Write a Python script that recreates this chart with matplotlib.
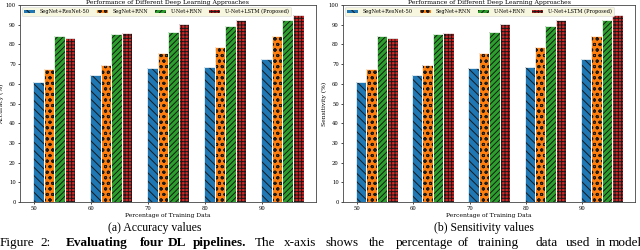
import numpy as np
import matplotlib
matplotlib.use("Agg")
import matplotlib.pyplot as plt

# ---------------------------------------------------------------------
# data
train_pct = [50, 60, 70, 80, 90]
methods = ["SegNet+ResNet-50", "SegNet+RNN", "U-Net+RNN", "U-Net+LSTM (Proposed)"]
accuracy = [
    [61.0, 64.5, 68.0, 68.6, 72.6],
    [67.5, 69.5, 75.8, 78.8, 84.5],
    [84.3, 85.2, 86.3, 89.3, 92.2],
    [83.3, 85.9, 90.5, 92.2, 94.8],
]
sensitivity = [
    [61.0, 64.5, 68.0, 68.6, 72.6],
    [67.5, 69.5, 75.8, 78.8, 84.5],
    [84.3, 85.2, 86.3, 89.3, 92.2],
    [83.3, 85.9, 90.5, 92.2, 94.8],
]
yticks = list(range(0, 101, 10))

COLORS = ["#1f77b4", "#ff7f0e", "#2ca02c", "#d62728"]
HATCHES = ["\\\\\\\\", "ooo", "//////", "+++++"]

plt.rcParams.update({
    "font.family": "DejaVu Serif",
    "hatch.linewidth": 0.7,
})

fig = plt.figure(figsize=(6.4, 2.5), dpi=100)
W, H = 640, 250


def px_axes(x0, x1, y0, y1):
    return fig.add_axes([x0 / W, 1 - y1 / H, (x1 - x0) / W, (y1 - y0) / H])


def panel(ax, values, ylabel):
    x = np.arange(len(train_pct))
    bw = 0.186
    for i, (name, vals) in enumerate(zip(methods, values)):
        pos = x + 0.07 + i * bw
        ax.bar(pos, vals, width=bw, color=COLORS[i], edgecolor="#1a1a1a",
               linewidth=0, hatch=HATCHES[i], label=name, zorder=2)
        ax.bar(pos, vals, width=bw, fill=False, edgecolor="white",
               linewidth=0.6, zorder=3)
    ax.set_xticks(x)
    ax.set_xticklabels([str(v) for v in train_pct])
    ax.set_yticks(yticks)
    ax.set_xlim(-0.25, 4.94)
    ax.set_ylim(0, 100)
    ax.tick_params(labelsize=3.8, length=1.5, width=0.5, pad=1.5)
    for s in ax.spines.values():
        s.set_linewidth(0.6)
        s.set_color("#444444")
    ax.set_xlabel("Percentage of Training Data", fontsize=4.3, labelpad=1.5)
    ax.set_ylabel(ylabel, fontsize=4.3, labelpad=1.5)
    ax.set_title("Performance of Different Deep Learning Approaches",
                 fontsize=4.4, pad=0.4)
    leg = ax.legend(loc="upper left", ncol=4, fontsize=3.6, frameon=True,
                    facecolor="#f7f6df", edgecolor="#dddddd", framealpha=1,
                    borderaxespad=0.45, columnspacing=1.3, handlelength=2.2,
                    handleheight=0.8, handletextpad=1.0, borderpad=0.35)
    leg.get_frame().set_linewidth(0.5)


ax1 = px_axes(20, 316, 5, 202)
panel(ax1, accuracy, "Accuracy (%)")
ax2 = px_axes(343, 635, 5, 202)
panel(ax2, sensitivity, "Sensitivity (%)")

cap = dict(fontsize=8.5, family="Liberation Serif", ha="center", va="center")
fig.text(155 / W, 1 - 228 / H, "(a) Accuracy values", **cap)
fig.text(484 / W, 1 - 228 / H, "(b) Sensitivity values", **cap)

# figure caption line (cut off by the bottom edge), justified word by word
words = [
    (0, "Figure", "normal"), (40, "2:", "normal"),
    (66, "Evaluating", "bold"), (140, "four", "bold"), (168, "DL", "bold"),
    (193, "pipelines.", "bold"), (255, "The", "normal"), (284, "x-axis", "normal"),
    (326, "shows", "normal"), (369, "the", "normal"), (396, "percentage", "normal"),
    (457, "of", "normal"), (478, "training", "normal"), (535, "data", "normal"),
    (566, "used", "normal"), (596, "in", "normal"), (609, "model", "normal"),
]
for xw, wtxt, wt in words:
    fig.text(xw / W, 1 - 237 / H, wtxt, fontsize=9.5, family="Liberation Serif",
             fontweight=wt, ha="left", va="top")

fig.savefig("out.png", dpi=100)
